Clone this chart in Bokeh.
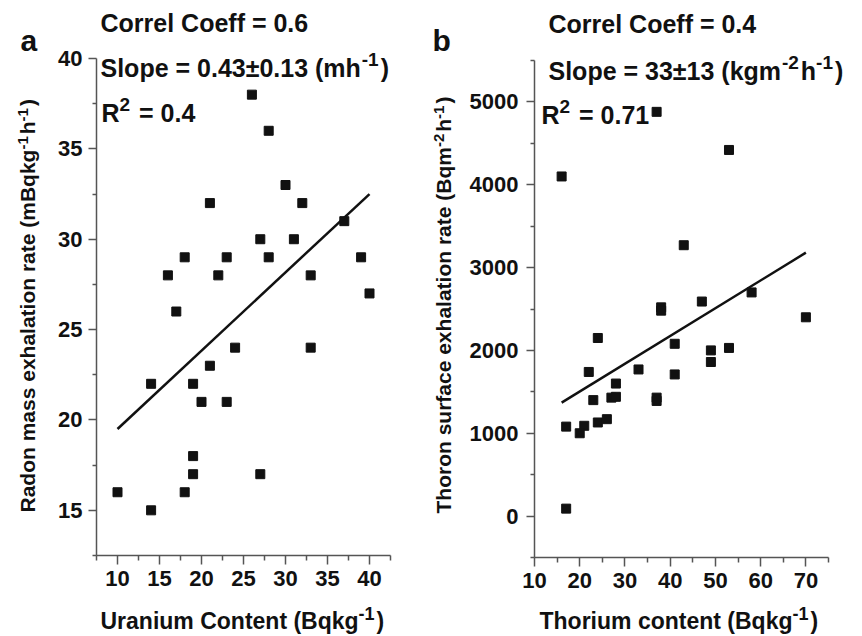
import math
from bokeh.plotting import figure
from bokeh.layouts import row
from bokeh.models import FixedTicker, Label, Range1d
from bokeh.embed import file_html
from bokeh.resources import INLINE

# ---------------- data ----------------
uranium = [26, 28, 30, 32, 21, 37, 27, 31, 18, 23, 28, 39, 16, 22, 33, 40, 17,
           24, 33, 21, 14, 19, 20, 23, 19, 19, 27, 10, 18, 14]
radon = [38, 36, 33, 32, 32, 31, 30, 30, 29, 29, 29, 29, 28, 28, 28, 27, 26,
         24, 24, 23, 22, 22, 21, 21, 18, 17, 17, 16, 16, 15]
thorium = [37, 16, 53, 43, 38, 38, 47, 58, 70, 24, 41, 49, 49, 53, 22, 33, 41,
           28, 27, 28, 23, 37, 37, 24, 26, 17, 21, 20, 17]
thoron = [4880, 4100, 4420, 3270, 2520, 2480, 2590, 2700, 2400, 2150, 2080,
          2000, 1860, 2030, 1740, 1770, 1710, 1600, 1430, 1440, 1400, 1430,
          1390, 1130, 1170, 1080, 1090, 1000, 90]

fit_a_x = [10, 40]
fit_a_y = [19.5, 32.5]
fit_b_x = [16, 70]
fit_b_y = [1370, 3180]

a_x_major = [10, 15, 20, 25, 30, 35, 40]
a_x_minor = [7.5, 12.5, 17.5, 22.5, 27.5, 32.5, 37.5, 42.5]
a_y_major = [15, 20, 25, 30, 35, 40]
a_y_minor = [12.5, 17.5, 22.5, 27.5, 32.5, 37.5]
b_x_major = [10, 20, 30, 40, 50, 60, 70]
b_x_minor = [15, 25, 35, 45, 55, 65, 75]
b_y_major = [0, 1000, 2000, 3000, 4000, 5000]
b_y_minor = [-500, 500, 1500, 2500, 3500, 4500, 5500]

FONT = "Liberation Sans"
INK = "#111111"
AXC = "#555555"
FIG_W, FIG_H = 431, 636
BASE_FIX = 0.4   # empirical baseline correction (fraction of font size)

# Arial/Liberation Sans Bold advance widths (per 1000 em)
W = {' ': 278, '(': 333, ')': 333, '-': 333, '.': 278, '=': 584, '±': 584,
     'A': 722, 'B': 722, 'C': 722, 'R': 722, 'S': 667, 'T': 611, 'U': 722,
     'a': 556, 'b': 611, 'c': 556, 'd': 611, 'e': 556, 'f': 333, 'g': 611,
     'h': 611, 'i': 278, 'k': 556, 'l': 278, 'm': 889, 'n': 611, 'o': 611,
     'p': 611, 'q': 611, 'r': 389, 's': 556, 't': 333, 'u': 611, 'x': 556}


def tw(s, size):
    return sum(W.get(c, 556) for c in s) * size / 1000.0


def rich(p, ax, ay, dx, dy, parts, size, sup_size, rise, angle=0.0):
    pos = 0.0
    for txt, sup in parts:
        fs = sup_size if sup else size
        r = (rise if sup else 0) + BASE_FIX * fs
        lead = len(txt) - len(txt.lstrip(" "))
        pos += tw(" " * lead, fs)
        txt = txt.lstrip(" ")
        if angle == 0:
            xo, yo = dx + pos, dy + r
        else:
            xo, yo = dx - r, dy + pos
        p.add_layout(Label(x=ax, y=ay, x_offset=xo, y_offset=yo, text=txt,
                           text_font=FONT, text_font_style="bold",
                           text_font_size=f"{fs}px", text_align="left",
                           text_baseline="alphabetic", angle=angle,
                           text_color=INK))
        pos += tw(txt, fs) + (2 if sup else 0)


def make_fig(xb, yb, box, xmaj, xmin, ymaj, ymin, ystand):
    # box = (left, top, right, bottom) pixel edges of the axes area in the canvas
    left, top, right, bottom = box
    kx = (xb[1] - xb[0]) / (right - left)
    ky = (yb[1] - yb[0]) / (bottom - top)
    x_rng = (xb[0] - left * kx, xb[1] + (FIG_W - right) * kx)
    y_rng = (yb[0] - (FIG_H - bottom) * ky, yb[1] + top * ky)
    p = figure(width=FIG_W, height=FIG_H, output_backend="svg",
               toolbar_location=None, x_range=Range1d(*x_rng),
               y_range=Range1d(*y_rng), min_border=0)
    p.outline_line_color = None
    p.xgrid.visible = False
    p.ygrid.visible = False
    p.background_fill_color = "white"
    p.border_fill_color = "white"
    p.xaxis.fixed_location = yb[0]
    p.yaxis.fixed_location = xb[0]
    p.xaxis.bounds = xb
    p.yaxis.bounds = yb
    p.xaxis.ticker = FixedTicker(ticks=xmaj, minor_ticks=xmin)
    p.yaxis.ticker = FixedTicker(ticks=ymaj, minor_ticks=ymin)
    for ax in (p.xaxis, p.yaxis):
        ax.axis_line_color = AXC
        ax.axis_line_width = 1.5
        ax.major_tick_line_color = AXC
        ax.major_tick_line_width = 1.5
        ax.minor_tick_line_color = AXC
        ax.minor_tick_line_width = 1.5
        ax.major_tick_in = 0
        ax.minor_tick_in = 0
        ax.major_label_text_font = FONT
        ax.major_label_text_font_style = "bold"
        ax.major_label_text_font_size = "22px"
        ax.major_label_text_color = INK
    p.xaxis.major_tick_out = 9
    p.xaxis.minor_tick_out = 5
    p.yaxis.major_tick_out = 8
    p.yaxis.minor_tick_out = 4
    p.xaxis.major_label_standoff = 6
    p.yaxis.major_label_standoff = ystand
    return p


# ---------------- panel a ----------------
pa = make_fig((7.5, 42.5), (12.5, 40), (96, 58, 390, 555),
              a_x_major, a_x_minor, a_y_major, a_y_minor, 6)
pa.scatter(uranium, radon, marker="square", size=9, color=INK)
pa.line(fit_a_x, fit_a_y, line_color=INK, line_width=2.5)

AX, AY, RX, RY = 7.5, 40, 96, 58   # anchor data point <-> canvas pixel
rich(pa, AX, AY, 20 - RX, RY - 52, [("a", False)], 30, 20, 0)
rich(pa, AX, AY, 100 - RX, RY - 32, [("Correl Coeff = 0.6", False)], 25, 19, 10)
rich(pa, AX, AY, 100 - RX, RY - 77,
     [("Slope = 0.43±0.13 (mh", False), ("-1", True), (")", False)], 25, 19, 10)
rich(pa, AX, AY, 101 - RX, RY - 122,
     [("R", False), ("2", True), (" = 0.4", False)], 25, 19, 10)
rich(pa, AX, AY, 100 - RX, RY - 630,
     [("Uranium Content (Bqkg", False), ("-1", True), (")", False)], 23, 18, 10)
rich(pa, AX, AY, 35 - RX, RY - 512,
     [("Radon mass exhalation rate (mBqkg", False), ("-1", True), ("h", False),
      ("-1", True), (")", False)], 21, 15, 7, angle=math.pi / 2)

# ---------------- panel b ----------------
pb = make_fig((10, 75), (-500, 5500), (103, 60, 397, 557),
              b_x_major, b_x_minor, b_y_major, b_y_minor, 8)
pb.scatter(thorium, thoron, marker="square", size=9, color=INK)
pb.line(fit_b_x, fit_b_y, line_color=INK, line_width=2.5)

BX, BY, SX, SY = 10, 5500, 103, 60
rich(pb, BX, BY, 1 - SX, SY - 52, [("b", False)], 30, 20, 0)
rich(pb, BX, BY, 117 - SX, SY - 33, [("Correl Coeff = 0.4", False)], 25, 19, 10)
rich(pb, BX, BY, 117 - SX, SY - 80,
     [("Slope = 33±13 (kgm", False), ("-2", True), ("h", False), ("-1", True),
      (")", False)], 25, 19, 10)
rich(pb, BX, BY, 110 - SX, SY - 124,
     [("R", False), ("2", True), (" = 0.71", False)], 25, 19, 10)
rich(pb, BX, BY, 108 - SX, SY - 630,
     [("Thorium content (Bqkg", False), ("-1", True), (")", False)], 23, 18, 10)
rich(pb, BX, BY, 20 - SX, SY - 513,
     [("Thoron surface exhalation rate (Bqm", False), ("-2", True), ("h", False),
      ("-1", True), (")", False)], 21, 15, 7, angle=math.pi / 2)

layout = row(pa, pb)
open("out.html", "w").write(file_html(layout, INLINE))
